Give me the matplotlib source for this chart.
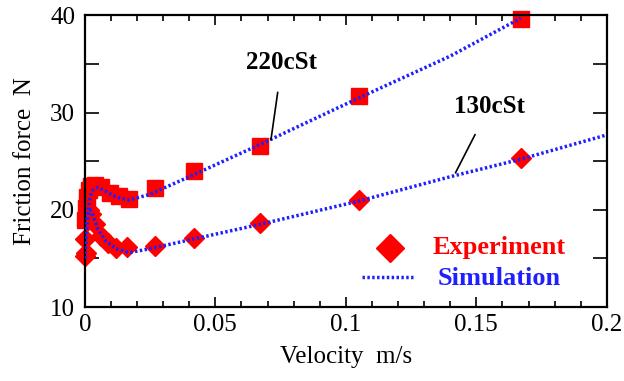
import matplotlib.pyplot as plt
from matplotlib.ticker import MultipleLocator

# Experiment, 220cSt (squares)
exp220_v = [0.0, 0.0003, 0.0008, 0.0015, 0.0025, 0.004, 0.006, 0.0095, 0.013, 0.017, 0.027, 0.042, 0.067, 0.105, 0.167]
exp220_f = [19.0, 20.2, 21.3, 22.0, 22.4, 22.5, 22.3, 21.7, 21.4, 21.1, 22.2, 24.0, 26.6, 31.7, 39.6]

# Experiment, 130cSt (diamonds)
exp130_v = [0.0, 0.0004, 0.0, 0.0008, 0.0015, 0.0025, 0.004, 0.006, 0.009, 0.012, 0.016, 0.027, 0.042, 0.067, 0.105, 0.167]
exp130_f = [15.2, 15.6, 17.0, 18.8, 20.0, 19.6, 18.5, 17.3, 16.6, 16.1, 16.2, 16.3, 17.1, 18.6, 21.0, 25.3]

# Simulation curves
sim220_v = [0.0, 0.0005, 0.001, 0.002, 0.003, 0.005, 0.008, 0.012, 0.017, 0.025, 0.04, 0.067, 0.105, 0.14, 0.167]
sim220_f = [15.0, 17.5, 19.5, 21.3, 22.0, 22.3, 21.9, 21.3, 21.0, 21.6, 23.4, 26.7, 31.5, 35.8, 39.7]

sim130_v = [0.0, 0.0005, 0.001, 0.002, 0.003, 0.005, 0.008, 0.012, 0.017, 0.025, 0.04, 0.067, 0.105, 0.14, 0.167, 0.2]
sim130_f = [15.0, 17.5, 19.0, 20.0, 19.5, 18.0, 16.8, 16.0, 15.6, 16.0, 16.9, 18.5, 20.9, 23.4, 25.2, 27.7]

xtick_vals = [0, 0.05, 0.1, 0.15, 0.2]
xtick_labels = ['0', '0.05', '0.1', '0.15', '0.2']
ytick_vals = [10, 20, 30, 40]
ytick_labels = ['10', '20', '30', '40']

plt.rcParams['font.family'] = ['Liberation Serif', 'DejaVu Serif']

fig = plt.figure(figsize=(6.24, 3.81), dpi=100)
ax = fig.add_axes([0.136, 0.194, 0.8365, 0.766])

red = '#ff0000'
blue = '#2020ff'
dots = (0, (0.7, 0.7))

# experiment markers
ax.plot(exp220_v, exp220_f, 's', color=red, markersize=11, clip_on=False, zorder=2)
ax.plot(exp130_v, exp130_f, 'D', color=red, markersize=10.5, clip_on=False, zorder=2)

# simulation lines
ax.plot(sim220_v, sim220_f, linestyle=dots, color=blue, lw=2.5, zorder=3)
ax.plot(sim130_v, sim130_f, linestyle=dots, color=blue, lw=2.5, zorder=3)

ax.set_xlim(0, 0.2)
ax.set_ylim(10, 40)
ax.set_xticks(xtick_vals, xtick_labels)
ax.set_yticks(ytick_vals, ytick_labels)
ax.xaxis.set_minor_locator(MultipleLocator(0.01))
ax.yaxis.set_minor_locator(MultipleLocator(5))
ax.tick_params(which='both', direction='in', top=True, right=True, labelsize=18, width=1.2)
ax.tick_params(axis='x', which='major', length=7, pad=5)
ax.tick_params(axis='x', which='minor', length=4.5)
ax.tick_params(axis='y', which='both', length=10, pad=7)
for s in ax.spines.values():
    s.set_linewidth(1.6)

ax.set_xlabel('Velocity  m/s', fontsize=18, labelpad=7)
ax.set_ylabel('Friction force  N', fontsize=18, labelpad=10)

# annotations
ax.annotate('220cSt', xy=(0.0713, 27.2), xytext=(0.0755, 35.1), fontsize=18, fontweight='bold',
            ha='center', va='center',
            arrowprops=dict(arrowstyle='-', color='black', lw=1.2, shrinkA=11, shrinkB=0))
ax.annotate('130cSt', xy=(0.142, 23.8), xytext=(0.155, 30.6), fontsize=18, fontweight='bold',
            ha='center', va='center',
            arrowprops=dict(arrowstyle='-', color='black', lw=1.2, shrinkA=11, shrinkB=0))

# legend drawn by hand in data coordinates
ax.plot([0.1169], [16.1], 'D', color=red, markersize=14)
ax.text(0.1333, 16.1, 'Experiment', color=red, fontsize=19, fontweight='bold', va='center')
ax.plot([0.106, 0.1257], [13.1, 13.1], linestyle=dots, color=blue, lw=2.5)
ax.text(0.1352, 12.9, 'Simulation', color=blue, fontsize=19, fontweight='bold', va='center')

fig.savefig('out.png', dpi=100)
